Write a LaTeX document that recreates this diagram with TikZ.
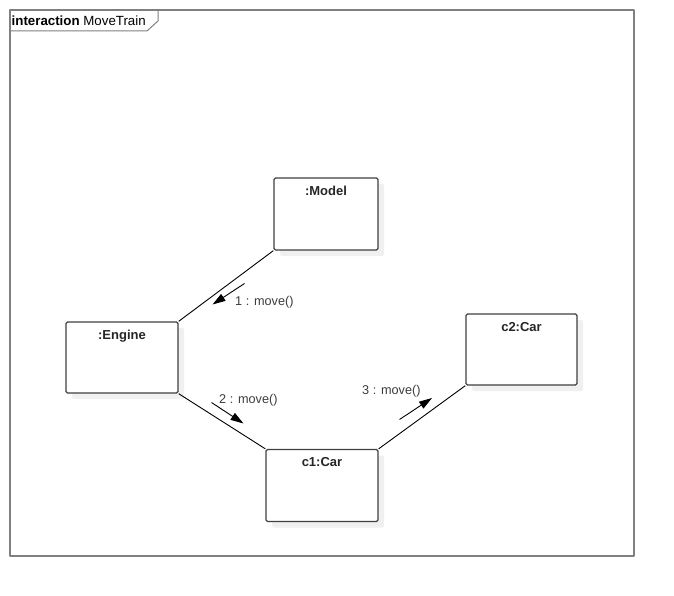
\documentclass[tikz,border=0pt]{standalone}
\usepackage{fontspec}
\setmainfont{Liberation Sans}
\usetikzlibrary{shadows,arrows.meta}
\definecolor{framegray}{RGB}{128,128,128}
\definecolor{boxgray}{RGB}{64,64,64}
\definecolor{shadowgray}{RGB}{240,240,240}
\definecolor{textgray}{RGB}{60,60,60}

\begin{document}
\begin{tikzpicture}[
  x=1pt, y=-1pt,
  line join=round,
  frame/.style={draw=framegray, line width=1.3pt},
  objbox/.style={draw=boxgray, line width=1.3pt, fill=white, rounded corners=1.5pt,
    drop shadow={shadow xshift=6pt, shadow yshift=-6pt, fill=shadowgray, opacity=1}},
  objlab/.style={font=\fontsize{13}{15}\selectfont\bfseries, text=black!85, inner sep=0pt, anchor=north},
  link/.style={draw=black, line width=0.9pt},
  msg/.style={draw=black, line width=0.9pt, -{Triangle[length=13pt,width=8pt]}},
  lab/.style={font=\fontsize{12.7}{14}\selectfont, text=textgray, inner sep=0pt}
]

\useasboundingbox (0,0) rectangle (674,596);

% --- Frame with its name tag ---
\draw[frame] (10,10) rectangle (634,556);
\draw[frame, line width=1pt] (10,31) -- (147,31) -- (158,21) -- (158,10);
\node[anchor=west, inner sep=0pt, font=\fontsize{13.3}{15}\selectfont] (tag) at (11.5,20.5)
  {\textbf{interaction} MoveTrain};

% --- Objects ---
\node[objbox, minimum width=104pt, minimum height=72pt] (model) at (326,214) {};
\node[objbox, minimum width=112pt, minimum height=71pt] (engine) at (122,357.5) {};
\node[objbox, minimum width=112pt, minimum height=72pt] (c1) at (322,485.5) {};
\node[objbox, minimum width=111pt, minimum height=71pt] (c2) at (521.5,349.5) {};

\node[objlab] at ([yshift=-8.5pt]model.north) {:Model};
\node[objlab] at ([yshift=-8.5pt]engine.north) {:Engine};
\node[objlab] at ([yshift=-8.5pt]c1.north) {c1:Car};
\node[objlab] at ([yshift=-8.5pt]c2.north) {c2:Car};

% --- Links ---
\draw[link] (model.south west) -- (engine.north east);
\draw[link] (engine.south east) -- (c1.north west);
\draw[link] (c1.north east) -- (c2.south west);

% --- Messages ---
\coordinate (m1a) at (244.5,283.5);
\coordinate (m1b) at (212.5,304.5);
\coordinate (m2a) at (211.5,402.5);
\coordinate (m2b) at (243.5,423.5);
\coordinate (m3a) at (399.5,419.5);
\coordinate (m3b) at (432,398);

\draw[msg] (m1a) -- (m1b);
\draw[msg] (m2a) -- (m2b);
\draw[msg] (m3a) -- (m3b);

\node[lab, anchor=west] (msg1) at (235,302.5) {1 : move()};
\node[lab, anchor=west] (msg2) at (219,400) {2 : move()};
\node[lab, anchor=west] (msg3) at (362,391) {3 : move()};
\end{tikzpicture}
\end{document}
